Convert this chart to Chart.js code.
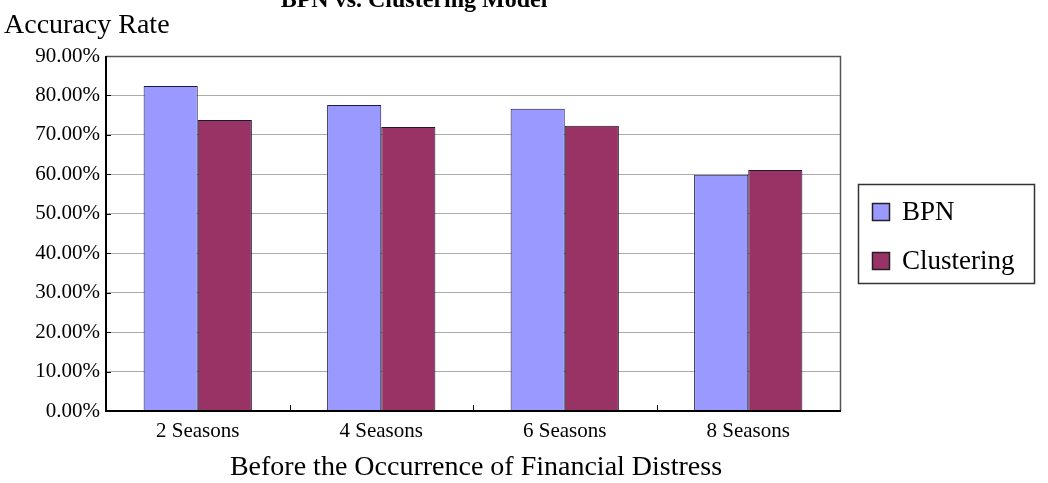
<!DOCTYPE html>
<html><head><meta charset="utf-8">
<script src="https://cdn.jsdelivr.net/npm/chart.js@4/dist/chart.umd.min.js"></script>
<style>html,body{margin:0;padding:0;background:#fff}#wrap{width:1048px;height:483px;position:relative}</style>
</head><body><div id="wrap"><canvas id="c" width="1048" height="483"></canvas></div>
<script>
const categories = ["2 Seasons", "4 Seasons", "6 Seasons", "8 Seasons"];
const bpnValues = [82.4, 77.6, 76.6, 59.9];
const clusteringValues = [73.8, 72.0, 72.3, 61.1];
const seriesNames = ["BPN", "Clustering"];
const yTicks = [0, 10, 20, 30, 40, 50, 60, 70, 80, 90];
const chartTitle = "BPN vs. Clustering Model";
const yTitle = "Accuracy Rate";
const xTitle = "Before the Occurrence of Financial Distress";

const SERIF = "'Liberation Serif','DejaVu Serif',serif";

const decor = {
  id: 'decor',
  afterDraw(chart) {
    const ctx = chart.ctx, a = chart.chartArea, ys = chart.scales.y;
    ctx.save();
    ctx.strokeStyle = '#000'; ctx.lineWidth = 1;
    yTicks.forEach(v => {
      const y = Math.round(ys.getPixelForValue(v)) + 0.5;
      ctx.beginPath(); ctx.moveTo(a.left, y); ctx.lineTo(a.left + 5, y); ctx.stroke();
    });
    const step = (a.right - a.left) / categories.length;
    for (let i = 1; i < categories.length; i++) {
      const x = Math.round(a.left + step * i) + 0.5;
      ctx.beginPath(); ctx.moveTo(x, a.bottom); ctx.lineTo(x, a.bottom - 6); ctx.stroke();
    }
    ctx.strokeStyle = '#555'; ctx.lineWidth = 1.5;
    ctx.beginPath(); ctx.moveTo(a.left, a.top + 0.5); ctx.lineTo(a.right + 0.5, a.top + 0.5); ctx.lineTo(a.right + 0.5, a.bottom); ctx.stroke();
    ctx.strokeStyle = '#000'; ctx.lineWidth = 2;
    ctx.beginPath(); ctx.moveTo(a.left, a.top); ctx.lineTo(a.left, a.bottom); ctx.lineTo(a.right + 1, a.bottom); ctx.stroke();
    ctx.fillStyle = '#000';
    ctx.font = 'bold 24px ' + SERIF; ctx.textAlign = 'center'; ctx.textBaseline = 'alphabetic';
    ctx.fillText(chartTitle, 414, 7);
    ctx.font = '28px ' + SERIF; ctx.textAlign = 'left';
    ctx.fillText(yTitle, 4, 33);
    ctx.font = '28px ' + SERIF; ctx.textAlign = 'center';
    ctx.fillText(xTitle, 476, 475);
    ctx.strokeStyle = '#333'; ctx.lineWidth = 1.5;
    ctx.strokeRect(858.5, 184.5, 176, 99);
    const ds = chart.data.datasets;
    const rows = [212, 261];
    ds.forEach((d, i) => {
      ctx.fillStyle = d.backgroundColor;
      ctx.fillRect(872, rows[i] - 9, 18, 18);
      ctx.strokeStyle = '#222'; ctx.lineWidth = 1.5;
      ctx.strokeRect(872.5, rows[i] - 8.5, 17, 17);
      ctx.fillStyle = '#000'; ctx.font = '27px ' + SERIF; ctx.textAlign = 'left'; ctx.textBaseline = 'middle';
      ctx.fillText(seriesNames[i], 902, rows[i] + 1);
    });
    ctx.restore();
  }
};

new Chart(document.getElementById('c'), {
  type: 'bar',
  data: {
    labels: categories,
    datasets: [
      { label: seriesNames[0], data: bpnValues, backgroundColor: '#9999FF', borderColor: '#1a1a40', borderWidth: 1, categoryPercentage: 0.59, barPercentage: 1.0 },
      { label: seriesNames[1], data: clusteringValues, backgroundColor: '#993366', borderColor: '#1a1a30', borderWidth: 1, categoryPercentage: 0.59, barPercentage: 1.0 }
    ]
  },
  options: {
    responsive: false, animation: false, devicePixelRatio: 1,
    layout: { padding: { top: 56, right: 208, left: 0, bottom: 0 } },
    plugins: { legend: { display: false }, title: { display: false }, tooltip: { enabled: false } },
    scales: {
      x: {
        grid: { display: false, drawTicks: false },
        border: { display: false },
        ticks: { color: '#000', font: { family: SERIF, size: 21 }, padding: 8 },
        afterFit(s) { s.height = 72; }
      },
      y: {
        min: 0, max: 90,
        afterBuildTicks(s) { s.ticks = yTicks.map(v => ({ value: v })); },
        grid: { color: '#ababab', lineWidth: 1, drawTicks: false },
        border: { display: false },
        ticks: { color: '#000', font: { family: SERIF, size: 21 }, padding: 6, callback: v => v.toFixed(2) + '%' },
        afterFit(s) { s.width = 106; }
      }
    }
  },
  plugins: [decor]
});
</script></body></html>
